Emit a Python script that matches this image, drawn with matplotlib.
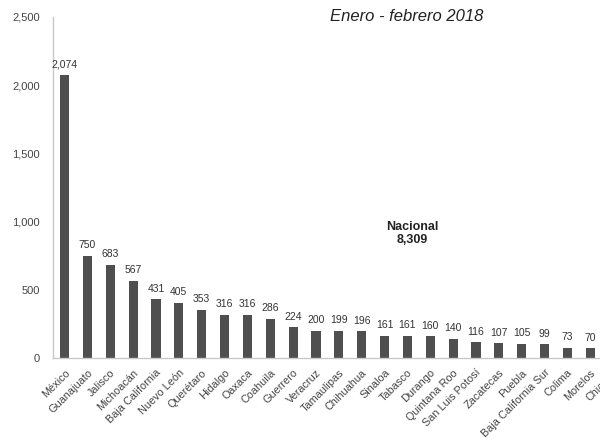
import numpy as np
import matplotlib
matplotlib.use('Agg')
import matplotlib.pyplot as plt

plt.rcParams['font.family'] = ['Liberation Sans', 'DejaVu Sans']

# Datos por entidad federativa, enero - febrero 2018
estados = ['México', 'Guanajuato', 'Jalisco', 'Michoacán', 'Baja California',
           'Nuevo León', 'Querétaro', 'Hidalgo', 'Oaxaca', 'Coahuila',
           'Guerrero', 'Veracruz', 'Tamaulipas', 'Chihuahua', 'Sinaloa',
           'Tabasco', 'Durango', 'Quintana Roo', 'San Luis Potosí', 'Zacatecas',
           'Puebla', 'Baja California Sur', 'Colima', 'Morelos', 'Chiapas']
valores = [2074, 750, 683, 567, 431, 405, 353, 316, 316, 286,
           224, 200, 199, 196, 161, 161, 160, 140, 116, 107,
           105, 99, 73, 70, 62]
total_nacional = 8309

fig = plt.figure(figsize=(6, 4.43), dpi=100)
# the original picture is cropped on the right, so the axes run past the edge
ax = fig.add_axes([0.0878, 0.192, 0.953, 0.770])

x = np.arange(len(estados))
ax.bar(x, valores, width=0.40, color='#4f4f4f', zorder=2)

# value labels (the last bar sits past the cropped edge, its label is not shown)
for xi, v in zip(x[:-1], valores[:-1]):
    ax.annotate('{:,}'.format(v), (xi, v), xytext=(0, 4), textcoords='offset points',
                ha='center', va='bottom', fontsize=7.5, color='#333333')

ax.set_xlim(-0.52, 24.5)
ax.set_ylim(0, 2500)
ax.set_yticks(np.arange(0, 2501, 500))
ax.set_yticklabels(['{:,}'.format(t) for t in range(0, 2501, 500)])
ax.set_xticks(x)
ax.set_xticklabels(estados, rotation=45, ha='right', rotation_mode='anchor')

ax.tick_params(axis='y', length=0, pad=9, labelsize=8, labelcolor='#444444')
ax.tick_params(axis='x', length=0, pad=7, labelsize=7.8, labelcolor='#444444')

for side in ['top', 'right']:
    ax.spines[side].set_visible(False)
for side in ['left', 'bottom']:
    ax.spines[side].set_color('#c8c8c8')
    ax.spines[side].set_linewidth(1.0)

ax.text(15.2, 910, 'Nacional\n{:,}'.format(total_nacional), ha='center', va='center',
        fontsize=9, fontweight='bold', color='#222222', linespacing=1.1)

fig.text(0.678, 0.963, 'Enero - febrero 2018', ha='center', va='center',
         fontsize=12, style='italic', color='#222222')

fig.savefig('out.png', dpi=100)
